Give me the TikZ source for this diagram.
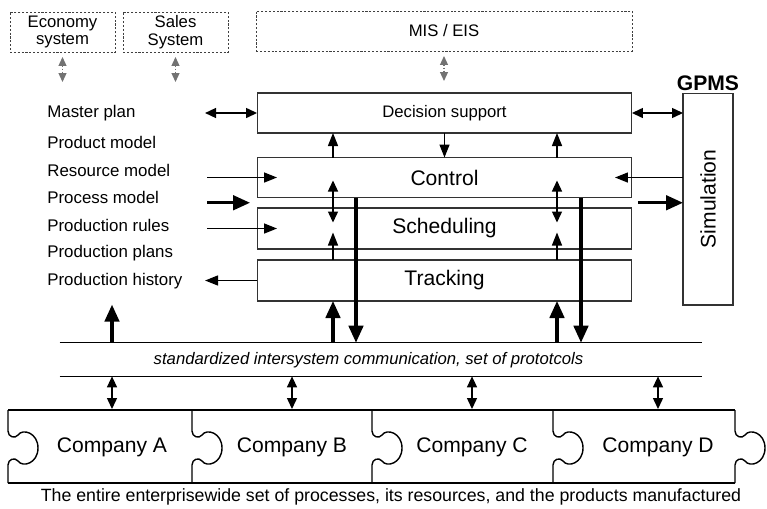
\documentclass[tikz,border=0pt]{standalone}
\usepackage{fontspec}
\setmainfont{Liberation Sans}
\usetikzlibrary{arrows.meta,calc,positioning}

\begin{document}
\begin{tikzpicture}[
    x=0.02cm, y=-0.02cm,
    box/.style={rectangle, draw=black!80, line width=0.6pt, inner sep=0pt, outer sep=0pt, font=\fontsize{12}{14}\selectfont},
    dashbox/.style={rectangle, draw=black!75, line width=0.5pt, dash pattern=on 1.2pt off 1pt, inner sep=0pt, outer sep=0pt, minimum height=0.8cm, align=center, font=\fontsize{9.5}{10}\selectfont},
    lbl/.style={anchor=west, inner sep=0pt, font=\fontsize{9.6}{11}\selectfont},
    arr/.style={-{Triangle[length=2.6mm,width=2mm]}, line width=0.8pt},
    dbl/.style={{Triangle[length=2.2mm,width=2mm]}-{Triangle[length=2.2mm,width=2mm]}, line width=0.8pt},
    bigarr/.style={-{Triangle[length=3.4mm,width=2.9mm]}, line width=1.8pt},
    link/.style={{Triangle[length=1.8mm,width=1.6mm]}-{Triangle[length=1.8mm,width=1.6mm]}, black!55, densely dotted, line width=0.7pt},
    piece/.style={line width=0.8pt, line join=round}
]
\useasboundingbox (0,0) rectangle (767,508);

% outside systems
\node[dashbox, minimum width=2.1cm] (eco) at (62.5,32) {Economy\\system};
\node[dashbox, minimum width=2.1cm] (sales) at (175.5,32) {Sales\\System};
\node[dashbox, minimum width=7.52cm] (mis) at (444,31) {MIS / EIS};
\draw[link] ([yshift=-0.1cm]eco.south) -- ++(0,25);
\draw[link] ([yshift=-0.1cm]sales.south) -- ++(0,25);
\draw[link] ([yshift=-0.1cm]mis.south) -- ++(0,25);

% GPMS layers
\node[font=\bfseries\fontsize{12}{14}\selectfont] (gpms) at (708,83) {GPMS};
\node[box, minimum width=7.5cm, minimum height=0.8cm, font=\fontsize{9.5}{11}\selectfont] (dec) at (444.5,113) {Decision support};
\node[box, minimum width=7.5cm, minimum height=0.8cm] (ctrl) at (444.5,177.5) {Control};
\node[box, minimum width=7.5cm, minimum height=0.82cm] (sched) at (444.5,228.5) {Scheduling};
\node[box, minimum width=7.5cm, minimum height=0.82cm] (track) at (444.5,280.5) {Tracking};
\node[box, minimum width=1cm, minimum height=4.24cm,
      label={[rotate=90, font=\fontsize{12}{14}\selectfont]center:Simulation}] (sim) at (708,199) {};

% models and plans
\node[lbl] (mplan) at (47,113) {Master plan};
\node[lbl] (pmodel) at (47,142) {Product model};
\node[lbl] (rmodel) at (47,170) {Resource model};
\node[lbl] (prmodel) at (47,197) {Process model};
\node[lbl] (rules) at (47,225) {Production rules};
\node[lbl] (pplans) at (47,253) {Production plans};
\node[lbl] (hist) at (47,281) {Production history};

\coordinate (colL) at (333,0);
\coordinate (colR) at (557,0);
\coordinate (busL) at (356,0);
\coordinate (busR) at (581,0);
\coordinate (gapL) at ($(ctrl.south west)!.5!(sched.north west)$);
\coordinate (gapR) at ($(ctrl.south east)!.5!(sched.north east)$);

\draw[dbl] ([xshift=-1.04cm]dec.west) -- (dec.west);
\draw[arr] ([xshift=-1cm]ctrl.west) -- ([xshift=0.4cm]ctrl.west);
\draw[bigarr] ([xshift=-1cm]gapL) -- ([xshift=-0.14cm]gapL);
\draw[arr] ([xshift=-1cm]sched.west) -- ([xshift=0.4cm]sched.west);
\draw[arr] (track.west) -- ([xshift=-1.04cm]track.west);

\draw[dbl] (dec.east) -- (dec.east -| sim.west);
\draw[arr] (ctrl.east -| sim.west) -- ([xshift=-0.34cm]ctrl.east);
\draw[bigarr] ([xshift=0.12cm]gapR) -- (gapR -| sim.west);

\draw[arr] (colL |- ctrl.north) -- (colL |- dec.south);
\draw[arr] (dec.south) -- (ctrl.north);
\draw[arr] (colR |- ctrl.north) -- (colR |- dec.south);
\foreach \c in {colL,colR} {
  \draw[dbl] ($(\c |- ctrl.center)+(0,3)$) -- ($(\c |- sched.center)+(0,-6)$);
  \draw[arr] (\c |- track.north) -- ($(\c |- sched.center)+(0,4)$);
}

% communication band
\node[minimum width=12.84cm, minimum height=0.66cm, inner sep=0pt] (bus) at (381,359.5) {};
\node[font=\itshape\fontsize{9.5}{11}\selectfont] (protocols) at (368.5,360) {standardized intersystem communication, set of prototcols};
\draw[line width=0.6pt] (bus.north west) -- (bus.north east);
\draw[line width=0.6pt] (bus.south west) -- (bus.south east);

\draw[bigarr] (busL |- ctrl.south) -- (busL |- bus.north);
\draw[bigarr] (busR |- ctrl.south) -- (busR |- bus.north);
\draw[bigarr] (colL |- bus.north) -- (colL |- track.south);
\draw[bigarr] (colR |- bus.north) -- (colR |- track.south);

% companies
\coordinate (ptop) at (0,410);
\node[font=\fontsize{12}{14}\selectfont] (compA) at (112,447) {Company A};
\node[font=\fontsize{12}{14}\selectfont] (compB) at (292,447) {Company B};
\node[font=\fontsize{12}{14}\selectfont] (compC) at (472,447) {Company C};
\node[font=\fontsize{12}{14}\selectfont] (compD) at (658,447) {Company D};

\draw[bigarr] (compA |- bus.north) -- ++(0,-38);
\foreach \n in {compA,compB,compC,compD}
  \draw[dbl] (\n |- bus.south) -- ([yshift=0.02cm]\n |- ptop);

\draw[piece] (8,410) -- (735,410);
\draw[piece] (8,483) -- (735,483);
\foreach \px in {8,192,372,553,735}
  \draw[piece] (\px,410) -- (\px,431)
    .. controls (\px,437) and (\px+7,439) .. (\px+10,435)
    .. controls (\px+15,428) and (\px+30,433) .. (\px+30,448)
    .. controls (\px+30,463) and (\px+15,468) .. (\px+10,461)
    .. controls (\px+7,457) and (\px,459) .. (\px,465)
    -- (\px,483);

\node[font=\fontsize{10.1}{12}\selectfont] (caption) at (391,497) {The entire enterprisewide set of processes, its resources, and the products manufactured};
\end{tikzpicture}
\end{document}
